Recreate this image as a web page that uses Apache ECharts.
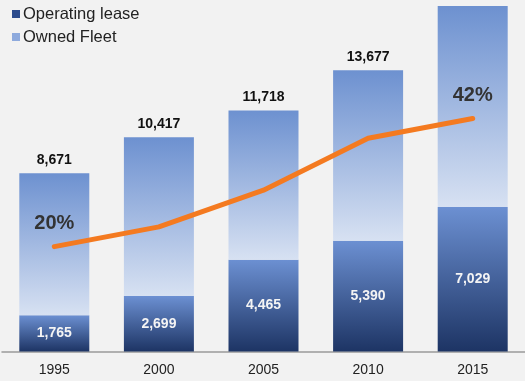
<!DOCTYPE html>
<html>
<head>
<meta charset="utf-8">
<script src="https://cdn.jsdelivr.net/npm/echarts@6/dist/echarts.min.js"></script>
<style>
  html, body { margin: 0; padding: 0; background: #f2f2f2; }
  #chart { width: 525px; height: 381px; }
</style>
</head>
<body>
<div id="chart"></div>
<script>
// Fleet composition by year
const years = ['1995', '2000', '2005', '2010', '2015'];
const totalFleet = [8671, 10417, 11718, 13677, 16800];
const showTotal = [true, true, true, true, false];
const operatingLease = [1765, 2699, 4465, 5390, 7029];
// share of operating lease, in percent
const leaseShare = [20, 23.4, 29.7, 38.6, 42];
const shareLabelShown = [true, false, false, false, true];

const ownedFleet = totalFleet.map((t, i) => t - operatingLease[i]);

const FONT = '"Liberation Sans", Arial, Helvetica, sans-serif';
const fmt = n => n.toLocaleString('en-US');

function vGrad(top, bottom) {
  return new echarts.graphic.LinearGradient(0, 0, 0, 1, [
    { offset: 0, color: top },
    { offset: 1, color: bottom }
  ]);
}

const chart = echarts.init(document.getElementById('chart'), null, { renderer: 'canvas' });

chart.setOption({
  backgroundColor: '#f2f2f2',
  animation: false,
  textStyle: { fontFamily: FONT },
  legend: {
    orient: 'vertical',
    left: 12,
    top: 5,
    padding: 0,
    itemWidth: 8,
    itemHeight: 8,
    itemGap: 5,
    icon: 'rect',
    selectedMode: false,
    textStyle: { fontFamily: FONT, fontSize: 16.5, color: '#222', lineHeight: 18, padding: [0, 0, 0, -2] },
    data: [
      { name: 'Operating lease', itemStyle: { color: '#2c4b8c' } },
      { name: 'Owned Fleet', itemStyle: { color: '#8eaadd' } }
    ]
  },
  grid: { left: 2, right: -2.5, top: 2, bottom: 29.5 },
  xAxis: {
    type: 'category',
    data: years,
    axisTick: { show: false },
    axisLine: { lineStyle: { color: '#9a9a9a', width: 1.5 } },
    axisLabel: { fontFamily: FONT, fontSize: 14, color: '#222', margin: 12 }
  },
  yAxis: [
    { type: 'value', min: 0, max: 17000, show: false },
    { type: 'value', min: 2, max: 62, show: false }
  ],
  series: [
    {
      name: 'Operating lease',
      type: 'bar',
      stack: 'fleet',
      barWidth: 70,
      data: operatingLease,
      itemStyle: { color: vGrad('#6c90d2', '#1d3464') },
      label: {
        show: true,
        position: 'inside',
        fontFamily: FONT,
        fontSize: 14,
        fontWeight: 'bold',
        color: '#f4f4f4',
        formatter: p => fmt(p.value)
      }
    },
    {
      name: 'Owned Fleet',
      type: 'bar',
      stack: 'fleet',
      barWidth: 70,
      data: ownedFleet,
      itemStyle: { color: vGrad('#6d91d0', '#d7e1f2') },
      label: {
        show: true,
        position: 'top',
        distance: 6,
        fontFamily: FONT,
        fontSize: 14,
        fontWeight: 'bold',
        color: '#111',
        formatter: p => showTotal[p.dataIndex] ? fmt(totalFleet[p.dataIndex]) : ''
      }
    },
    {
      name: 'Lease share',
      type: 'line',
      yAxisIndex: 1,
      z: 5,
      symbol: 'circle',
      symbolSize: 0.1,
      showSymbol: true,
      data: leaseShare,
      label: {
        show: true,
        position: 'top',
        distance: 13,
        fontFamily: FONT,
        fontSize: 20,
        fontWeight: 'bold',
        color: '#333',
        formatter: p => shareLabelShown[p.dataIndex] ? Math.round(p.value) + '%' : ''
      },
      lineStyle: { color: '#f47a20', width: 5, cap: 'round', join: 'round' },
      itemStyle: { color: '#f47a20' }
    }
  ]
});
</script>
</body>
</html>
